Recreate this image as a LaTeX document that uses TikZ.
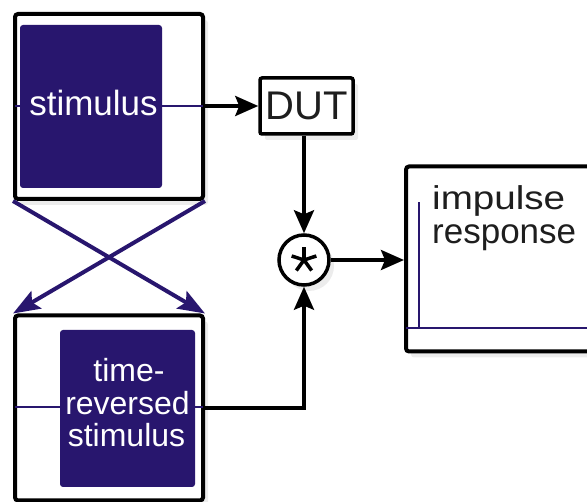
\documentclass[tikz,border=0pt]{standalone}
\usepackage{fontspec}
\setmainfont{Liberation Sans}
\usetikzlibrary{arrows.meta,shadows}
\definecolor{navy}{RGB}{40,22,110}
\definecolor{ink}{RGB}{30,30,30}
\begin{document}
\begin{tikzpicture}[x=1pt,y=-1pt,
  shade/.style={drop shadow={shadow xshift=5pt,shadow yshift=-6pt,opacity=0.15}},
  frame/.style={draw=black,line width=4pt,rounded corners=3pt,fill=white,
    minimum width=188pt,minimum height=185pt,inner sep=0pt,shade},
  dutbox/.style={draw=black,line width=3.5pt,rounded corners=2pt,fill=white,
    minimum width=93pt,minimum height=56pt,inner sep=0pt,shade,text=ink,
    font=\fontsize{40}{40}\selectfont},
  convnode/.style={circle,draw=black,line width=3.5pt,fill=white,minimum size=50pt,inner sep=0pt,shade},
  arr/.style={draw=black,line width=3.5pt,-{Stealth[length=23pt,width=20pt,inset=4pt]}},
  navyarr/.style={draw=navy,line width=4pt,-{Stealth[length=27pt,width=20pt,inset=5pt]}},
  wave/.style={draw=navy,line width=2.5pt},
  block/.style={fill=navy,rounded corners=3pt},
  wlabel/.style={anchor=base,text=white,inner sep=0pt},
  klabel/.style={anchor=base west,text=ink,inner sep=0pt,font=\fontsize{35}{35}\selectfont}]
\useasboundingbox (0,0) rectangle (587,502);

% frames
\node[frame] (stim) at (109,106.5) {};
\node[frame] (rev) at (109,408) {};
\node[frame] (ir) at (500,259) {};
\node[dutbox] (dut) at (306.5,106) {DUT};
\node[convnode] (conv) at (304,260) {};
\foreach \a in {90,18,162,-54,-126}
  \draw[black,line width=3.5pt] (conv.center) -- ++(\a:13pt);

% stimulus waveform
\fill[block] (20,25) rectangle (162,188);
\draw[wave] (15,106) -- (20,106);
\draw[wave] (162,106) -- (203,106);
\node[wlabel,font=\fontsize{35}{35}\selectfont] (stimlbl) at (93.5,116) {stimulus};

% time-reversed waveform
\fill[block] (60,330) rectangle (195,487);
\draw[wave] (15,407) -- (60,407);
\draw[wave] (195,407) -- (203,407);
\node[wlabel,font=\fontsize{32}{32}\selectfont] (tr1) at (129,382) {time-};
\node[wlabel,font=\fontsize{32}{32}\selectfont] (tr2) at (127.5,415) {reversed};
\node[wlabel,font=\fontsize{32}{32}\selectfont] (tr3) at (126.5,447) {stimulus};

% impulse response
\draw[wave] (406,328) -- (600,328);
\draw[wave] (419,328) -- (419,202);
\node[klabel] (ir1) at (432,210) {\scalebox{1.17}[1]{\fontsize{33}{33}\selectfont impulse}};
\node[klabel] (ir2) at (432,244) {response};

% connectors
\draw[arr] (stim.east |- dut.west) -- (dut.west);
\draw[arr] (dut.south -| conv.north) -- (conv.north);
\draw[arr] (rev.east) -| (conv.south);
\draw[arr] (conv.east) -- (conv.east -| ir.west);
\draw[navyarr] (stim.south west) -- (rev.north east);
\draw[navyarr] (stim.south east) -- (rev.north west);
\end{tikzpicture}
\end{document}
